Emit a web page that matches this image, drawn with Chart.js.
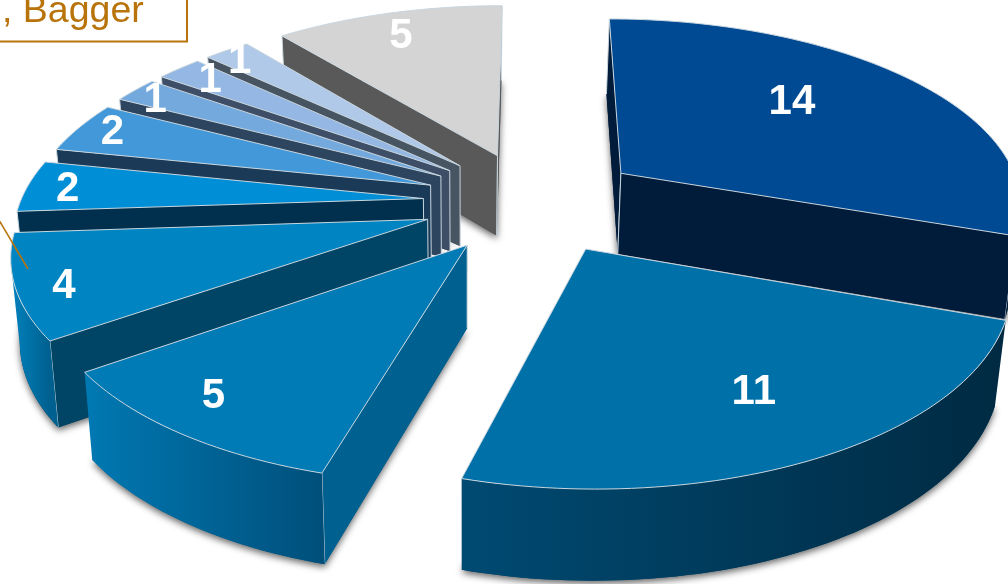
<!DOCTYPE html>
<html lang="en">
    <head>
        <meta charset="UTF-8" />
        <title>Exploded 3D pie</title>
        <script src="https://cdn.jsdelivr.net/npm/chart.js"></script>
        <style>
            body {
                margin: 0;
                background: #fff;
            }
            canvas {
                display: block;
            }
        </style>
    </head>
    <body>
        <canvas id="pieChart" width="1008" height="584"></canvas>

        <script>
            const values = [14, 11, 5, 4, 2, 2, 1, 1, 1, 5];

            // face colours, one per slice
            const topColors = ["#004a94", "#0070a8", "#007bb6", "#0085c2", "#008fd6", "#4298d8", "#74a9dd", "#94b8e3", "#b0c9e9", "#d4d4d4"];
            const wallColors = ["#001c3a", "#004a72", "#00608f", "#004565", "#00304e", "#1a3a58", "#2e4560", "#3d4e66", "#475462", "#595959"];
            const rimLeft = ["#001c3a", "#004a72", "#0079b3", "#0082bd", "#00304e", "#1a3a58", "#2e4560", "#3d4e66", "#475462", "#595959"];
            const rimRight = ["#001c3a", "#002a42", "#004f7a", "#00608f", "#00304e", "#1a3a58", "#2e4560", "#3d4e66", "#475462", "#595959"];

            // where the value sits on each slice: fraction of the radius, and a small turn in degrees
            const labelRadius = [0.643, 0.72, 0.85, 0.895, 0.902, 0.912, 0.922, 0.889, 0.925, 0.836];
            const labelTurn = [-7.3, -1.2, 3.3, -1.5, 0, 0.7, -1, 0.5, -1, -1];

            const calloutText = ", Bagger";
            const calloutColor = "#b8730a";
            const edgeColor = "#c9d6de";

            // camera used to tip the flat pie over
            const view = { cx: 533, cy: 202, rx: 403, ry: 186.5, k: 0.155 };

            function project(u, v) {
                const w = 1 + view.k * v;
                return { x: view.cx + (view.rx * u) / w, y: view.cy - (view.ry * v) / w };
            }

            // same point on the underside of the slab
            function drop(p) {
                return { x: 465 + (p.x - 465) * 0.98, y: p.y * 1.035 + 74.5 };
            }

            function tracePath(ctx, points) {
                ctx.beginPath();
                points.forEach((p, i) => (i ? ctx.lineTo(p.x, p.y) : ctx.moveTo(p.x, p.y)));
                ctx.closePath();
            }

            function sliceGeometry(arc) {
                const shift = arc.options.offset / arc.outerRadius;
                const mid = (arc.startAngle + arc.endAngle) / 2;
                const ou = Math.cos(mid) * shift;
                const ov = -Math.sin(mid) * shift;
                const rim = [];
                const steps = Math.max(4, Math.ceil((arc.endAngle - arc.startAngle) * 40));
                for (let i = 0; i <= steps; i++) {
                    const t = arc.startAngle + ((arc.endAngle - arc.startAngle) * i) / steps;
                    rim.push(project(ou + Math.cos(t), ov - Math.sin(t)));
                }
                return { mid, ou, ov, rim, apex: project(ou, ov) };
            }

            // a radial wall shows when going down moves away from the slice top
            function wallShows(a, b, inside) {
                const ex = b.x - a.x;
                const ey = b.y - a.y;
                return ex * (inside.y - a.y) - ey * (inside.x - a.x) < 0 === ex > 0;
            }

            function drawRadialWall(ctx, g, corner, color) {
                const inside = g.rim[Math.floor(g.rim.length / 2)];
                if (!wallShows(g.apex, corner, inside)) return;
                ctx.fillStyle = color;
                tracePath(ctx, [g.apex, corner, drop(corner), drop(g.apex)]);
                ctx.fill();
                ctx.beginPath();
                [g.apex, corner].forEach((p) => {
                    const q = drop(p);
                    ctx.moveTo(p.x, p.y);
                    ctx.lineTo(q.x, q.y);
                });
                ctx.stroke();
            }

            function drawRimWall(ctx, g, left, right) {
                const front = g.rim.filter((p, i) => {
                    const next = g.rim[i + 1] || p;
                    const prev = g.rim[i - 1] || p;
                    return next.x - prev.x < 0;
                });
                if (front.length < 2) return;
                const under = front.map(drop).reverse();
                const xs = front.map((p) => p.x);
                const fade = ctx.createLinearGradient(Math.min(...xs), 0, Math.max(...xs), 0);
                fade.addColorStop(0, left);
                fade.addColorStop(1, right);
                ctx.fillStyle = fade;
                tracePath(ctx, front.concat(under));
                ctx.fill();
            }

            const slabPlugin = {
                id: "slab",
                // replaces the flat arcs with the tilted slabs
                beforeDatasetsDraw(chart) {
                    const ctx = chart.ctx;
                    const arcs = chart.getDatasetMeta(0).data;
                    const slices = arcs.map((arc, i) => ({ i, g: sliceGeometry(arc) }));
                    // far slices first
                    slices.sort((a, b) => Math.sin(a.g.mid) - Math.sin(b.g.mid));

                    ctx.save();
                    ctx.lineWidth = 1;
                    ctx.lineJoin = "round";

                    // soft shadow under everything
                    ctx.shadowColor = "rgba(0,0,0,0.6)";
                    ctx.shadowBlur = 7;
                    ctx.shadowOffsetY = 3;
                    slices.forEach(({ i, g }) => {
                        ctx.fillStyle = wallColors[i];
                        tracePath(ctx, [g.apex, ...g.rim].map(drop));
                        ctx.fill();
                    });
                    ctx.shadowColor = "transparent";

                    slices.forEach(({ i, g }) => {
                        ctx.strokeStyle = edgeColor;
                        drawRadialWall(ctx, g, g.rim[0], wallColors[i]);
                        drawRadialWall(ctx, g, g.rim[g.rim.length - 1], wallColors[i]);
                        drawRimWall(ctx, g, rimLeft[i], rimRight[i]);
                        ctx.fillStyle = topColors[i];
                        tracePath(ctx, [g.apex, ...g.rim]);
                        ctx.fill();
                        ctx.stroke();
                    });

                    ctx.fillStyle = "#fff";
                    ctx.font = "bold 42px 'Liberation Sans', Arial, sans-serif";
                    ctx.textAlign = "center";
                    ctx.textBaseline = "middle";
                    slices.forEach(({ i, g }) => {
                        const t = g.mid + (labelTurn[i] * Math.PI) / 180;
                        const p = project(g.ou + Math.cos(t) * labelRadius[i], g.ov - Math.sin(t) * labelRadius[i]);
                        ctx.fillText(String(values[i]), p.x + 1.5, p.y + 2);
                    });
                    ctx.restore();
                    return false;
                },
                afterDraw(chart) {
                    const ctx = chart.ctx;
                    ctx.save();
                    ctx.strokeStyle = calloutColor;
                    ctx.lineWidth = 2;
                    ctx.strokeRect(-10, -10, 197, 51.5);
                    ctx.lineWidth = 1.5;
                    ctx.beginPath();
                    ctx.moveTo(-1, 220);
                    ctx.lineTo(28, 269);
                    ctx.stroke();
                    ctx.fillStyle = calloutColor;
                    ctx.font = "37.5px 'Liberation Sans', Arial, sans-serif";
                    ctx.textBaseline = "alphabetic";
                    ctx.fillText(calloutText, 2, 22);
                    ctx.restore();
                },
            };

            new Chart(document.getElementById("pieChart"), {
                type: "pie",
                data: {
                    labels: values.map((v, i) => "Slice " + (i + 1)),
                    datasets: [{ data: values, backgroundColor: topColors, offset: 70 }],
                },
                options: {
                    responsive: false,
                    animation: false,
                    plugins: { legend: { display: false }, tooltip: { enabled: false } },
                },
                plugins: [slabPlugin],
            });
        </script>
    </body>
</html>
